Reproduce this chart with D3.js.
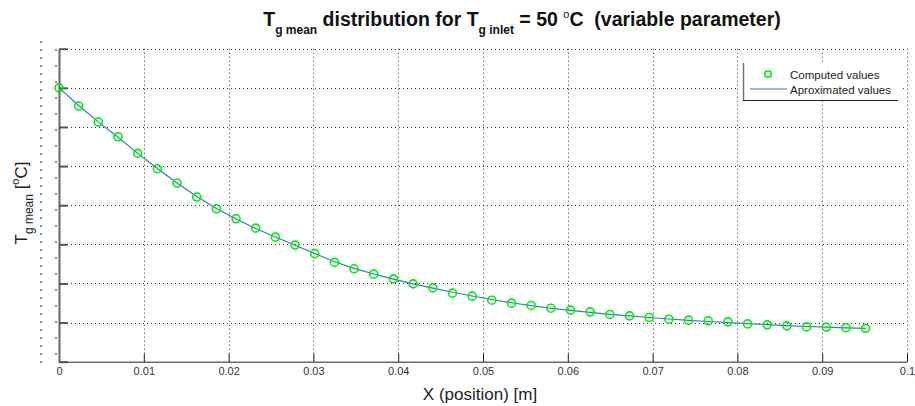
<!DOCTYPE html>
<html>
<head>
<meta charset="utf-8">
<script src="https://cdnjs.cloudflare.com/ajax/libs/d3/7.8.5/d3.min.js"></script>
<style>
  body { margin: 0; background: #fff; }
  svg { display: block; font-family: "Liberation Sans", Arial, sans-serif; }
</style>
</head>
<body>
<svg width="915" height="406"></svg>
<script>
// position along the channel [m]
const xPos = [0, 0.00232, 0.00464, 0.00696, 0.00928, 0.0116, 0.01392, 0.01624, 0.01856, 0.02088,
  0.0232, 0.02552, 0.02784, 0.03016, 0.03248, 0.0348, 0.03712, 0.03944, 0.04176, 0.04408,
  0.0464, 0.04872, 0.05104, 0.05336, 0.05568, 0.058, 0.06032, 0.06264, 0.06496, 0.06728,
  0.0696, 0.07192, 0.07424, 0.07656, 0.07888, 0.0812, 0.08352, 0.08584, 0.08816, 0.09048,
  0.0928, 0.09512];

// computed Tg mean [C]
const computed = [50.0, 47.67, 45.63, 43.75, 41.62, 39.65, 37.83, 36.04, 34.54, 33.26,
  32.07, 30.92, 29.90, 28.81, 27.69, 26.87, 26.19, 25.59, 24.95, 24.44,
  23.76, 23.38, 22.86, 22.48, 22.19, 21.84, 21.59, 21.37, 21.04, 20.86,
  20.65, 20.43, 20.31, 20.22, 20.09, 19.83, 19.71, 19.58, 19.45, 19.42,
  19.35, 19.26];

// approximated (fitted) Tg mean [C]
const approx = [50.0, 47.75, 45.65, 43.68, 41.62, 39.68, 37.85, 36.12, 34.58, 33.23,
  32.02, 30.93, 29.88, 28.82, 27.78, 26.93, 26.21, 25.56, 24.95, 24.40,
  23.88, 23.40, 22.95, 22.53, 22.16, 21.83, 21.55, 21.30, 21.06, 20.85,
  20.65, 20.46, 20.29, 20.14, 20.00, 19.86, 19.73, 19.61, 19.50, 19.41,
  19.33, 19.25];

const xTicks = [0, 0.01, 0.02, 0.03, 0.04, 0.05, 0.06, 0.07, 0.08, 0.09, 0.1];
const xTickLabels = ["0", "0.01", "0.02", "0.03", "0.04", "0.05", "0.06", "0.07", "0.08", "0.09", "0.1"];
const yTicks = [15, 20, 25, 30, 35, 40, 45, 50, 55];

function draw() {
  var svg = d3.select("svg");
  var left = 59, right = 907, plotTop = 48.7, plotBottom = 361.7;

  var x = d3.scaleLinear().domain([0, 0.1]).range([left, right]);
  var y = d3.scaleLinear().domain([15, 55]).range([plotBottom, plotTop]);

  // dotted grid
  var grid = svg.append("g").attr("class", "grid")
    .attr("stroke", "#333").attr("stroke-width", 1).attr("stroke-dasharray", "1,3");
  grid.selectAll("line.v").data(xTicks.slice(1)).enter().append("line")
    .attr("x1", function (d) { return Math.round(x(d)) + 0.5; })
    .attr("x2", function (d) { return Math.round(x(d)) + 0.5; })
    .attr("y1", plotTop).attr("y2", plotBottom);
  grid.selectAll("line.h").data(yTicks.slice(1)).enter().append("line")
    .attr("y1", function (d) { return Math.round(y(d)) + 0.5; })
    .attr("y2", function (d) { return Math.round(y(d)) + 0.5; })
    .attr("x1", left).attr("x2", right);

  // axes (MATLAB style, ticks inside)
  var xAxis = d3.axisBottom(x).tickValues(xTicks).tickSizeInner(-8).tickSizeOuter(0)
    .tickFormat(function (d, i) { return xTickLabels[i]; });
  var gx = svg.append("g").attr("transform", "translate(0," + plotBottom + ")").call(xAxis);
  gx.select(".domain").attr("stroke", "#222");
  gx.selectAll(".tick line").attr("stroke", "#222");
  gx.selectAll(".tick text").attr("y", 6).attr("dy", "0.71em")
    .attr("font-size", 11).attr("fill", "#333").attr("font-family", "Liberation Sans, Arial, sans-serif");

  var yAxis = d3.axisLeft(y).tickValues(yTicks).tickSizeInner(-9).tickSizeOuter(0).tickFormat("");
  var gy = svg.append("g").attr("transform", "translate(" + left + ",0)").call(yAxis);
  gy.select(".domain").attr("stroke", "#666").attr("stroke-width", 2);
  gy.selectAll(".tick line").attr("stroke", "#555").attr("stroke-width", 2);

  // stray dotted marks left of the y axis
  var dotsA = d3.range(41, 362, 8);
  var dotsB = d3.range(49, 362, 16);
  svg.append("g").selectAll("rect").data(dotsA).enter().append("rect")
    .attr("x", 40).attr("y", function (d) { return d; }).attr("width", 2).attr("height", 2).attr("fill", "#5b9bd5");
  svg.append("g").selectAll("rect").data(dotsB).enter().append("rect")
    .attr("x", 55).attr("y", function (d) { return d; }).attr("width", 2).attr("height", 2).attr("fill", "#5b9bd5");

  // fitted line
  var line = d3.line()
    .x(function (d, i) { return x(xPos[i]); })
    .y(function (d) { return y(d); });
  svg.append("path").datum(approx)
    .attr("d", line).attr("fill", "none").attr("stroke", "#2a7cc7").attr("stroke-width", 1.2);

  // computed points
  svg.append("g").selectAll("circle").data(computed).enter().append("circle")
    .attr("cx", function (d, i) { return x(xPos[i]); })
    .attr("cy", function (d) { return y(d); })
    .attr("r", 4).attr("fill", "none").attr("stroke", "#00ee00").attr("stroke-width", 1.6);

  // title
  var title = svg.append("text").attr("x", 522).attr("y", 26).attr("text-anchor", "middle")
    .attr("font-size", 19.5).attr("font-weight", "bold").attr("fill", "#111");
  title.append("tspan").text("T");
  title.append("tspan").attr("font-size", 12).attr("dy", 8).text("g mean");
  title.append("tspan").attr("dy", -8).text(" distribution for T");
  title.append("tspan").attr("font-size", 12).attr("dy", 8).text("g inlet");
  title.append("tspan").attr("dy", -8).text(" = 50 ");
  title.append("tspan").attr("font-size", 11).attr("font-weight", "normal").attr("dy", -8).text("o");
  title.append("tspan").attr("dy", 8).text("C\u00a0 (variable parameter)");

  // axis labels
  svg.append("text").attr("x", 480).attr("y", 400).attr("text-anchor", "middle")
    .attr("font-size", 17).attr("fill", "#222").text("X (position) [m]");

  var ylab = svg.append("text").attr("transform", "translate(27,203) rotate(-90)")
    .attr("text-anchor", "middle").attr("font-size", 17).attr("fill", "#222");
  ylab.append("tspan").text("T");
  ylab.append("tspan").attr("font-size", 12).attr("dy", 6).text("g mean");
  ylab.append("tspan").attr("dy", -6).text(" [");
  ylab.append("tspan").attr("font-size", 11).attr("dy", -8).text("o");
  ylab.append("tspan").attr("dy", 8).text("C]");

  // legend
  var lg = svg.append("g");
  lg.append("rect").attr("x", 738).attr("y", 62).attr("width", 162).attr("height", 39).attr("fill", "#fff");
  lg.append("line").attr("x1", 743.5).attr("x2", 743.5).attr("y1", 63).attr("y2", 101)
    .attr("stroke", "#777").attr("stroke-width", 1.5);
  lg.append("line").attr("x1", 743).attr("x2", 898).attr("y1", 100.5).attr("y2", 100.5)
    .attr("stroke", "#222").attr("stroke-width", 1);
  lg.append("circle").attr("cx", 768).attr("cy", 74).attr("r", 3.3)
    .attr("fill", "none").attr("stroke", "#00ee00").attr("stroke-width", 1.6);
  lg.append("line").attr("x1", 750).attr("x2", 787).attr("y1", 89).attr("y2", 89)
    .attr("stroke", "#2a7cc7").attr("stroke-width", 1.2);
  lg.append("text").attr("x", 790).attr("y", 78.5).attr("font-size", 11.5).attr("fill", "#222").text("Computed values");
  lg.append("text").attr("x", 790).attr("y", 94).attr("font-size", 11.5).attr("fill", "#222").text("Aproximated values");
}

draw();
</script>
</body>
</html>
